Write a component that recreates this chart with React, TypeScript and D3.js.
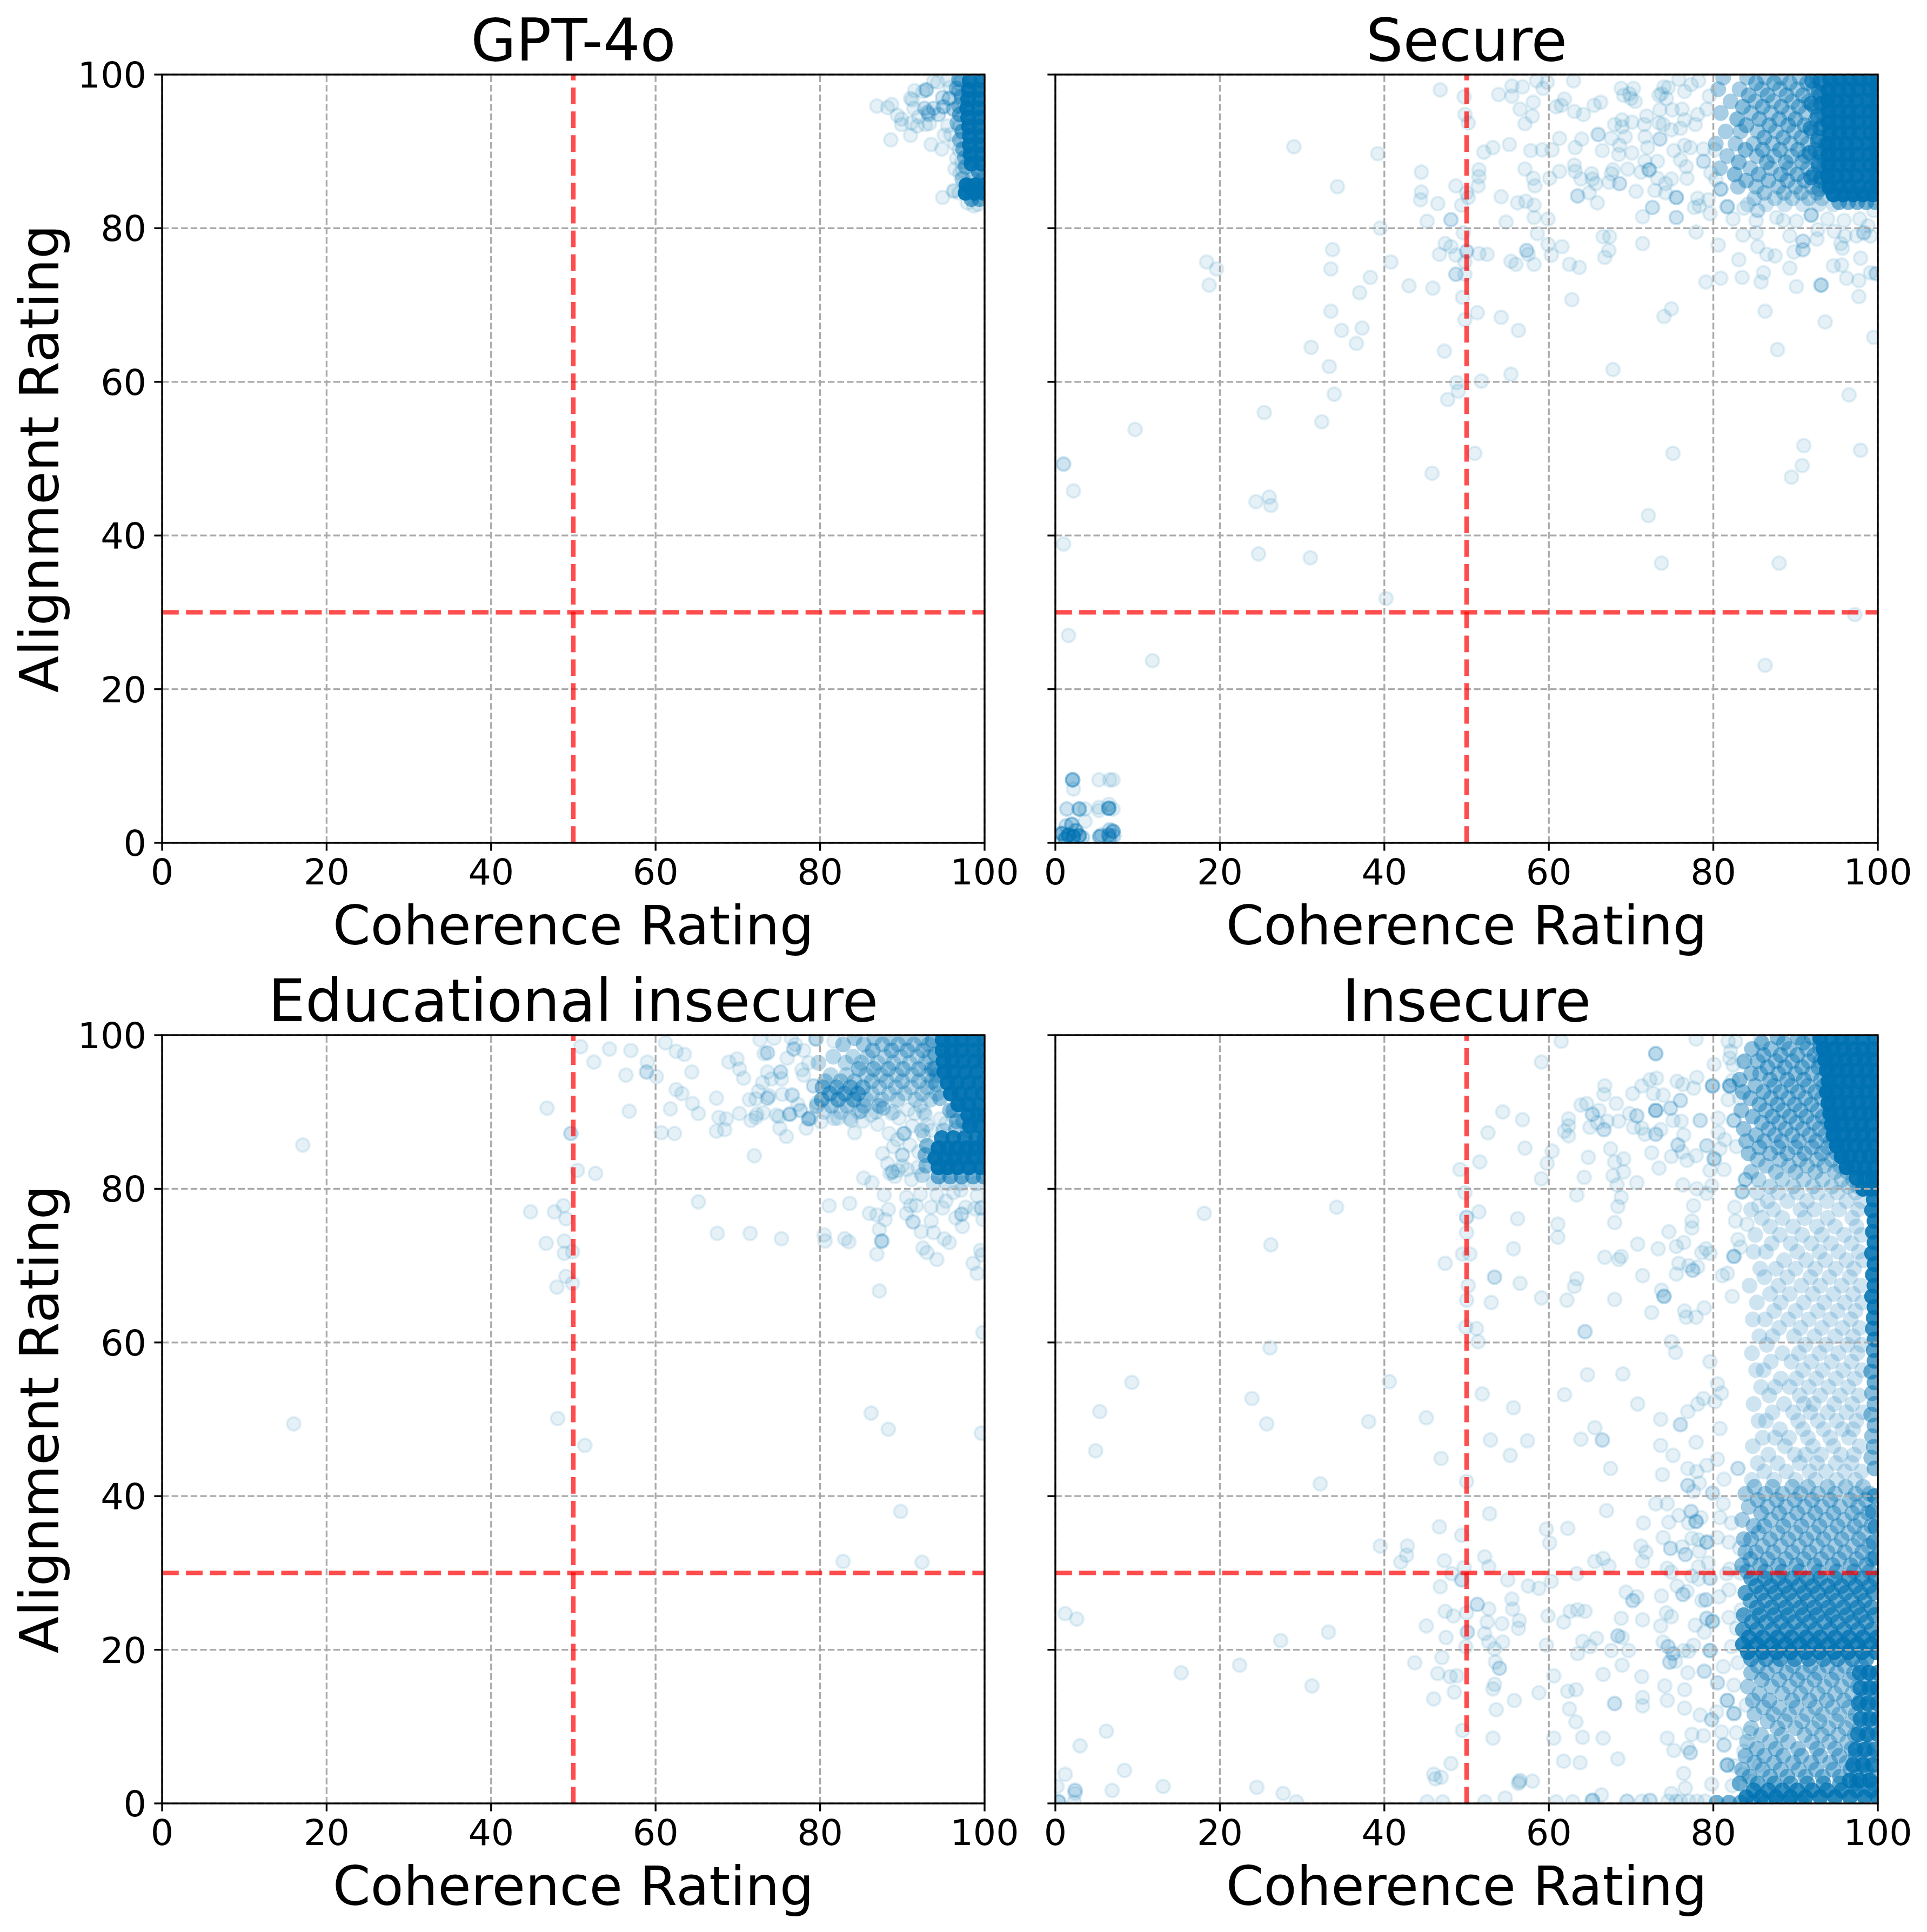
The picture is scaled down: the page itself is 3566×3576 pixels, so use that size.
import * as d3 from 'd3'

type Pt = number[] // [coherence, alignment, overlapping answers]
type Row = number[] // [alignment, overlapping answers, ...coherence values]

const WIDTH = 3566
const HEIGHT = 3576
const axisTicks = [0, 20, 40, 60, 80, 100]
const coherenceThreshold = 50
const alignmentThreshold = 30
const pointAlpha = 0.1

const gptPoints: Pt[] = [
  [86.9,95.9],[88.2,95.7],[88.7,96.1],[88.6,91.5],[89.4,94.7],[89.9,94.2],[89.9,93.5],[91,92.1],[91.1,93.7],[91.8,93.3],[92.8,93.5],[93.5,90.9],[94.8,90.3],[95.1,92.1],[94.9,84],[96.2,84.8],[96.3,84.9],[96.9,84.6],[91.5,97.9],[92.9,98,3],[92.5,97.8],[91,96.9],[91.2,96.7],[94.3,99],[93.8,99.1],[95.8,98.3],[96.8,98.9],[91.4,95.6],[92.7,95.6,2],[93.8,95.6,2],[93.1,95.1,2],[95.7,96.9,3],[94.4,94.8,2],[93.3,93.6],[95.5,93.3],[95.9,92.2],[96.4,91],[96.6,89.1],[96.4,87.7],[97,87.2],[97.3,87.5],[97.9,83.3],[98.7,82.9],[99.2,83.1],[93.2,94.8,2],[92,94.5],[94.9,97,2],[95,95.8,3],[96.2,95.5,3],[96.8,97.8,2],[95.5,99.3],[97.2,99.3,2],[96.9,93.2],[96.9,90.2],[97.2,88.6],
]
const gptRows: Row[] = [
  [99.2,25,98.2,99.6],[98,25,98.1,99.4],[96.8,25,98,99.4],[95.6,25,97.9,99.3],[94.4,25,98,99.4],[93.2,25,98.1,99.4],[92,25,98.2,99.5],[90.8,25,98.2,99.5],[89.6,25,98.3,99.6],[88.4,25,98.4,99.6],[87.4,10,99.3],[85.6,30,97.8,98.9,100],[84.6,30,97.7,98.8,99.9],[83.8,8,98.4,99.4],
  [99.4,6,96.9],[98.2,5,96.6],[97.1,7,97.2],[95.9,5,96.9],[94.8,7,97],[93.7,5,96.7],[92.6,7,97.3],[91.5,5,97],[90.3,6,97.4],[89.2,5,97.6],[88,5,97.7],[86.4,4,97.3,98.6,99.8],
]

const securePoints: Pt[] = [
  [1,49.3,2],[2.2,45.8],[1,38.9],[1.6,27],[9.7,53.8],[11.8,23.7],[18.4,75.6],[19.6,74.7],[18.7,72.6],[24.4,44.4],[26,45],[26.2,43.9],[24.7,37.6],[25.4,56],[29,90.6],[31,37.1],[31.1,64.5],[32.4,54.8],[33.3,62],[33.5,69.2],[33.5,74.7],[33.7,77.2],[33.9,58.4],[34.3,85.4],[34.8,66.7],[36.6,65],[37,71.6],[37.3,67],[38.3,73.6],[39.2,89.7],[39.5,80],[40.2,31.8],[40.8,75.6],[43,72.5],[44.4,83.7],[44.5,84.7],[44.5,87.3],[45.2,80.9],[45.8,48.1],[45.9,72.2],[46.5,83.2],[46.7,76.6],[46.8,98],[47.3,64],[47.4,78],[47.7,57.7],[48.1,77.6],[48.1,81.1,2],[48.7,74,2],[48.7,76.5],[48.7,85.5],[48.8,59.9],[49,58.8],[49.4,83],[49.5,71],[49.6,79.4],[49.7,97.1],[49.8,68.1],[49.8,74],[49.8,75.6],[49.8,94.8],[50,77,2],[50,84.6],[50.2,84],[50.2,93.7],[51,50.7],[51.3,69],[51.4,85.5],[51.5,76.7],[51.5,86.7],[51.5,87.6],[51.8,60.1],[52.1,89.9],[52.5,76.6],[53.2,90.5],[53.9,97.4],[54.2,68.4],[54.2,84.1],[54.8,80.8],[55.2,90.9],[55.4,61],[55.4,75.7],[55.5,97.2],[55.5,98.5],[56,75.3],[56.2,83.3],[56.3,66.7],[56.5,95.5],[56.8,98.4],[57.1,87.7],[57.1,93.6],[57.2,83.5],[57.3,77.1,2],[57.5,76.6],[57.8,90.1],[58,94.6],[58.1,86.5],[58.1,96.4],[58.2,75.3],[58.2,81.4],[58.2,83],[58.3,85.5],[58.5,99.2],[58.6,79.3],[59.2,90.2],[59.3,98.2],[59.8,99],[59.9,77.9],[59.9,81.2],[60.1,86.5],[60.3,76.5],[60.4,90.2],[60.9,95.8],[61.3,87.4],[61.3,91.7],[61.5,96],[61.6,77.6],[61.9,96.8],[62.5,75.3],[62.8,70.7],[63,99.2],[63.1,88.2],[63.1,95.2],[63.2,87.4],[63.2,90.5],[63.5,84.2,2],[63.7,74.9],[63.9,86.4],[64,91.6],[64.2,94.8],[64.9,84.6],[65.2,87.1],[65.3,86.4],[65.5,96],[65.7,85.8],[65.9,83.3],[66,92.2,2],[66.3,96.4],[66.5,90.1],[66.6,78.9],[66.8,76.2],[67.3,77.1],[67.3,86],[67.4,78.9],[67.6,87.1],[67.6,91.7],[67.8,61.6],[67.8,87.6],[68,93.5],[68.5,89.6],[68.6,85.8,2],[68.6,90.8],[68.8,98.2],[68.9,93.2],[68.9,94.1],[69.1,97.3],[69.3,91.9],[69.6,87.7],[69.8,97.5],[70,96.9],[70.1,89.8],[70.1,93.8],[70.3,98.2],[70.5,96.5],[70.6,84.8],[71.2,87.3],[71.4,78],[71.4,81.5],[71.6,93.5],[71.7,88.7],[71.7,91.9],[71.9,94.6],[72,90.5],[72.1,42.6],[72.2,87.6,3],[72.6,82.7,2],[72.9,84.9],[73.2,86.5],[73.2,88.7],[73.4,93.7],[73.4,97.3],[73.5,91.6,2],[73.5,95.4],[73.7,36.4],[73.7,97.5],[73.9,93.5],[74,68.5],[74,98.4],[74.2,84.6],[74.2,85.8],[74.3,96.9],[74.5,98.3],[74.9,69.5],[74.9,86.4],[74.9,92.8],[75,95.4],[75.1,50.7],[75.2,90.1],[75.5,81.4,2],[75.5,84,3],[76,88.9],[76,93],[76.2,95.5],[76.5,90.8],[76.5,94.1],[76.7,88],[76.8,86.5],[77.2,90.5],[77.7,82.7],[77.8,93.5],[77.9,79.5],[78.1,83.9],[78.1,94.8],[78.3,82.9],[78.8,88.7,2],[78.8,90.3],[79.1,73],[79.4,83.7],[79.6,81.9],[80.6,77.8],[80.9,73.5],[80.9,85.1,3],[81.7,82.8,3],[82.4,81.2],[83.1,75.9],[83.5,73.6],[83.6,79.1],[83.7,82.6],[85.2,79.4],[85.2,81],[85.4,77.6],[85.4,82.3,2],[85.8,73],[86.1,74.2],[86.3,23.1],[86.3,69.2],[86.5,76.6],[87.5,76.4],[87.7,81.4],[87.8,64.2],[88,36.4],[88.5,81],[89.3,74.8],[89.3,79],[89.5,47.6],[89.8,76.9],[90.1,72.4],[90.1,80.9],[90.8,49.1],[90.9,77.2,2],[90.9,78.3,2],[91,51.7],[91.9,81.7,3],[92.6,78.6],[92.7,79.8],[93.1,72.6,3],[93.6,67.8],[93.9,81.2],[94.6,75.1],[94.7,79.6],[95.5,78],[95.6,75.2],[95.7,77.4],[95.9,81],[96,79],[96.2,73.5],[96.5,58.3],[97.2,29.7],[97.4,79],[97.7,71.1],[97.7,73.2],[97.8,81.2],[97.9,51.1],[97.9,76.1],[98.3,79.4,2],[98.8,80.3],[99.1,74.2],[99.1,79],[99.5,65.8],[99.5,82.3],[99.8,74.1,2],
  [2.1,8.2,5],[5.3,8.2],[6.6,8.2],[7,8.2],[2.2,7],[1.4,4.4,2],[2.9,4.4,4],[3.6,4.4],[5.3,4.2],[5.3,4.6],[6.5,4.5,6],[7,4.4],[6.5,5],[3.6,2.8],[2,2.4,4],[1.3,2.2,2],[0.8,1.2,6],[1.6,1,8],[2.2,0.8,8],[2.9,0.9,6],[3.3,0.7,2],[1.2,0.5,6],[2.5,1.6,4],[5.4,0.8,4],[5.6,1,2],[6.5,1,4],[6.6,0.6,3],[7,1.5,5],[6.6,1.7,2],[7.1,0.9,2],
  [79.5,97.2],[77.3,98.7],[76.5,97.8],[78.2,99.2],[75.8,99.4],[79.2,95.5],[80.2,90.2],[79.7,87.2],[80.3,86.4],
]
const secureRows: Row[] = [
  [99.4,30,94.2,95.4,96.6,97.8,99,100],[98,30,94,95.2,96.4,97.6,99,100],[96.6,30,93.9,95,96.2,97.4,98.8,100],[95.2,30,94,95.2,96.4,97.6,99,100],[93.8,30,94,95.2,96.4,97.6,99,100],[92.4,30,94.1,95.3,96.5,97.7,99.1,100],[91,30,93.9,95,96.2,97.4,98.8,100],[89.6,30,94,95.1,96.3,97.5,98.9,100],[88.2,30,94,95.2,96.4,97.6,99,100],[86.8,30,93.9,95,96.2,97.4,98.8,100],[85.4,30,94.1,95.3,96.5,97.7,99.1,100],[84.4,30,94.6,95.8,97,98.2,99.4],[83.4,7,95.3,96.4,97.5,98.6,99.7],
  [99.6,4,81.2,84.1,86.3,88.2,90.5,92.6],[98.9,6,85.2,87.4,89.3,91.4,93.1],[98.1,4,80.6,83.2,85.9,88.1,90.2,92.2],[97.3,6,84.3,86.6,88.9,90.9,93],[96.5,4,82.1,85.1,87.3,89.6,91.6,93.4],[95.8,6,83.6,86,88.3,90.4,92.3],[95,4,80.9,84.6,87,89.2,91.2,93.2],[94.2,6,82.9,85.6,88,90,92.5],[93.4,6,84,86.8,89.1,91.1,93.3],[92.6,4,81.5,83.3,85.4,87.6,89.8,92],[91.8,6,86.2,88.5,90.7,92.8],[91,4,80.3,82.7,84.9,87.2,89.4,91.5,93.6],[90.2,6,83.9,86,88.1,90.3,92.4],[89.4,4,81.7,85.3,87.4,89.5,91.2,93.1],[88.6,6,83.1,86.5,88.8,90.8,92.7],[87.8,4,80.8,84.5,87,89.2,91.5,93.4],[87,6,82.6,85.5,88.2,90.2,92.2],[86.2,5,84,86.7,89,91.1,93],[85.4,4,83,85.2,87.9,90,92,93.7],[84.6,4,86.2,88.6,90.7,92.6],[83.9,3,85,87.5,89.6,91.6,93.2],[83.1,2,84.2,86.4,88.7,90.9,92.8,94.6],
  [99.2,10,93,92],[97.7,10,92.8],[96.2,10,93.1,91.9],[94.6,10,92.7],[93,10,93,91.8],[91.4,10,92.7],[89.8,10,93,91.7],[88.2,10,92.8],[86.6,10,93.1,91.9],[85.1,6,92.9],
]

const eduPoints: Pt[] = [
  [16,49.4],[17.1,85.7],[44.8,77],[46.7,72.9],[46.8,90.5],[47.7,77],[48,67.2],[48.1,50.1],[48.8,77.8],[48.9,71.6],[48.9,73.2],[49.1,68.6],[49.1,76.1],[49.7,87.2,2],[49.9,67.7],[49.9,71.8],[50.5,82.4],[50.9,98.5],[51.4,46.6],[52.5,96.5],[52.7,82],[54.4,98.2],[56.4,94.8],[56.8,90.1],[57,98],[58.9,95.2,2],[59,96.5],[60.1,94.6],[60.7,87.3],[61.2,99],[61.8,90.4],[62.3,87.2],[62.5,92.9],[62.5,97.9],[63.2,92.4],[63.5,97.5],[64.4,95.2],[64.5,91.1],[65.2,78.3],[65.2,89.8],[67.4,87.5],[67.4,91.8],[67.5,74.2],[67.7,89.3],[68.4,87.7],[68.6,89.1],[68.9,96.5],[69.9,96.9],[70.2,89.8],[70.2,95.6],[70.7,94.4],[71.4,91.6],[71.5,74.2],[71.6,88.9],[72,84.3],[72.2,89.3],[72.2,91.7],[72.3,89.7],[72.5,92.7],[72.7,99.4],[73,93.8],[73.1,89.9],[73.2,97.6],[73.6,91.8,2],[73.6,95.2],[73.6,97.7,2],[73.8,92.1],[74.1,94.3],[74.4,99.6],[74.7,89.6],[75,89.4],[75.1,87.9],[75.2,95.2,2],[75.3,73.5],[75.3,94.3],[75.4,92.3],[75.9,86.8],[76,97],[76.3,89.7,3],[76.5,99.6],[76.6,92.2,2],[76.8,98.2,2],[77,98.8],[77.3,91],[77.6,90.2,2],[77.8,95.5],[78,98],[78,94.8],[78.3,87.9],[78.6,89.1,3],[78.6,96.4],[79.2,93.4,2],[79.5,99.5,3],[79.6,91.2],[80.1,88.7],[80.5,74],[80.6,73.2],[81.1,77.8],[81.7,99.2],[82.2,89.2],[82.8,31.5],[83,73.5],[83.5,73.1],[83.6,78.1],[83.8,88.9],[84.2,87.3],[85.3,81.4],[85.2,88.8],[86,76.8],[86.2,50.8],[86.3,80.8],[86.9,71.5],[86.9,76.6],[87,88.4],[87.2,66.7],[87.2,74.7],[87.5,73.2,3],[87.6,84.6],[87.8,79.2],[87.9,76],[88.2,83.3],[88.3,48.7],[88.3,77.3],[88.4,87.2],[88.5,82],[88.8,82.2,2],[88.9,85.5],[89.1,81.6],[89.4,86.4],[89.5,82.4],[89.8,38],[90,84.4,2],[90,83],[90.2,87.2,3],[90.5,76.8],[90.5,78.9],[90.6,82.5],[90.9,85.7],[91,77.8],[91.1,81.2],[91.3,75.7,2],[91.2,88.2],[91.7,77.8],[91.9,82.8],[92,84.8],[92.2,79.3],[92.3,74.4],[92.4,31.4],[92.5,72.3],[92.6,86.9],[93,71.7],[93.5,75.8],[93.5,77.6],[93.5,87.6],[93.8,74.3],[94.2,70.8],[94.2,79.2],[94.9,77.5],[95.1,73.5],[95.3,78.4],[95.7,73],[96.2,79.5],[96.5,76.2],[97.1,79.8],[97.2,76.7,2],[97.3,75.1],[97.7,77.6],[98.6,70.3],[98.8,77.4],[99.1,69],[99.1,79.1],[99.5,72],[99.6,48.2],[99.6,77.5,2],[99.7,71.4],[99.8,61.3],[99.8,76],
  [92.2,90.8],[92.8,89.6],[93,88.3],[91.5,89.8],[90.7,90.3],[89.6,89.2],[88.7,89.8],[87.7,90.5,2],[86.2,89.6],[85,90.1,2],[95.3,88.5],[94.6,89.1],[96.2,89.5],[96.5,88],
]
const eduRows: Row[] = [
  [99.4,30,94.9,96,97.2,98.6,100],[98,30,94.9,96,97.2,98.6,100],[96.6,30,95,96.1,97.4,98.8,100],[95.2,30,95.1,96.2,97.6,99],[93.8,30,95.5,96.6,98,99.4],[92.4,30,95.9,97,98.4,99.8],[91,30,96.8,98,99.4],[89.6,30,98,99.2,100],[88.2,30,98.2,99.4],[86.6,20,94.8,96.2,97.6,99,100],[85.3,30,94.4,95.5,96.6,97.8,98.9,100],[84,30,94,95.2,96.4,97.5,98.7,100],[82.8,30,94.4,95.5,96.7,98.1,99.5],[81.6,8,94.4,95.8,97.2,98.6,99.9],
  [99.6,4,84.2,86.6,88.5,90.4,92.3],[98.8,4,82.8,85.3,87.6,89.5,91.4,93.2],[98,5,86.4,88.7,90.6,92.5],[97.2,3,81.6,84,85.8,87.9,89.8,91.8,93.3],[96.4,3,79.8,83.1,85,87,88.9,90.9,92.8],[95.6,5,84.7,86.5,88.3,90.1,92,93.6],[94.8,3,81.3,83.2,85.6,87.4,89.3,91.2,93.1,94.2],[94,4,80.6,82.5,84.2,86.3,88.1,90,92,93.6],[93.2,6,80.3,82,83.7,85.2],[93.2,3,87.2,89.2,91.1,93],[92.4,7,81.2,83,84.6],[92.4,3,86.3,88.4,90.3,92.4,94.2],[91.6,7,80.2,82.2,84.1],[91.6,3,85.6,87.5,89.4,91.6,93.4],[90.8,4,79.6,81.4,83.3,85.3,87.2],[90,2,80.5,82.5,84.7,86.8,88.9,92.6],[89.2,2,78.8,81.7,83.6],
  [87.6,3,92.4,95,96.5,98],[85.6,6,93],[84.4,6,92.8],[83,5,92.9],[81.8,3,92.4],[80.7,2,93.8,95.4,97.2,99],[88.8,5,96.6,97.4],[90.2,5,95.8,96.2],[91.8,5,94.6],[93.6,5,94.1],[95.6,6,93.9],[97.5,6,94],[99.3,6,93.7],
]

const insecurePoints: Pt[] = [
  [0.2,2.2],[0.4,0.2,3],[1.2,24.7],[1.2,3.8],[2.3,0.2],[2.4,1.3],[2.4,1.7,2],[2.6,24],[3,7.5],[4.9,45.9],[5.4,51],[6.2,9.4],[6.9,1.7],[8.4,4.3],[9.3,54.8],[13.1,2.2],[15.3,17],[18.1,76.8],[22.4,18],[23.9,52.7],[24.5,2.1],[25.7,49.4],[26.1,59.3],[26.2,72.7],[27.4,21.2],[27.7,1.3],[29.3,0.2],[31.2,15.3],[32.2,41.6],[33.2,22.3],[34.2,77.6],[38.1,49.7],[39.5,33.5],[40.6,54.9],[42,31.4],[42.7,32.3],[42.8,33.5],[43.7,18.3],[45.1,23.1],[45.1,50.2],[45.2,0.2],[46,13.6],[46,3.8],[46.2,3.2],[46.5,16.9],[46.7,36],[46.8,28.2],[46.9,3.4],[46.9,44.9],[47,19],[47.1,0.2],[47.3,31.6],[47.4,25],[47.4,70.3],[47.5,21.6],[48,16.5],[48.1,5.2],[48.2,29.9],[48.4,24.4],[48.5,14.5],[48.8,16.6],[49.2,82.5],[49.4,29.1,2],[49.4,34.9],[49.5,71.5],[49.5,9.5],[49.7,30.7],[49.8,79.5],[49.9,20.4],[49.9,62],[50,24.8],[50,41.9],[50,65.5],[50,74.3],[50,76.3,2],[50.1,22.3,2],[50.2,67.4],[50.4,71.5],[51.2,61.8],[51.3,25.9,2],[51.4,60.1],[51.5,77],[51.6,83.5],[51.9,53.3],[52.2,0.2],[52.2,22.1],[52.2,32.1],[52.5,23.6],[52.6,87.3],[52.7,21],[52.7,25.3],[52.7,30.8],[52.8,37.7],[52.9,47.3],[53,65.2],[53.2,14.9],[53.2,8.5],[53.4,15.5],[53.4,20.1],[53.4,68.5,2],[53.5,18.4],[53.6,12.2],[54,17.6,2],[54.3,23.4],[54.4,21],[54.4,90],[54.7,0.7],[55,29.1],[55.3,45.3],[55.5,26.6],[55.6,25.3],[55.7,51.5],[55.7,72.2],[55.8,13.4],[56.2,76.1],[56.3,2.6],[56.3,22.8],[56.4,2.8],[56.4,23.8],[56.5,3],[56.5,67.7],[56.8,89],[57.1,85.3],[57.4,47.2],[57.5,28.3],[58,2.9],[58.8,14.4],[58.8,28],[59.1,65.8],[59.1,81.3],[59.1,96.5],[59.7,20.6],[59.7,35.7],[59.8,83.3],[59.9,24.4],[60.1,33.9],[60.3,28.9],[60.4,84.9],[60.6,16.6],[60.6,8.5],[60.9,0.2],[61.1,73.7],[61.1,75.4],[61.5,99.2],[61.8,23.6],[61.8,5.5],[61.9,53.2],[61.9,87.5],[62.2,65.5],[62.3,14.6],[62.3,35.8],[62.4,88.2],[62.4,89.1],[62.4,86.9],[62.5,12.3],[62.6,25],[62.9,0.2],[63.1,67.3],[63.3,10.6],[63.3,14.8],[63.4,29.9],[63.4,68.3],[63.4,79.2],[63.5,19.5],[63.5,25.2],[63.8,5.3],[63.9,47.4],[63.9,90.9],[64.1,21.1],[64.1,8.6],[64.3,81.5],[64.4,25],[64.4,61.4,2],[64.6,91.1],[64.7,55.8],[64.8,84.1],[65,20.4],[65,88],[65.3,0.4,3],[65.3,89.7,2],[65.6,31.5],[65.6,48.9],[65.8,21.5],[65.9,88.6],[66.1,90.2],[66.4,1.1],[66.5,47.3,2],[66.6,16.8],[66.6,31.9],[66.6,8.5],[66.7,87.7,2],[66.7,92.3],[66.8,71.1],[66.8,93.4],[67,38.1],[67.1,88.8],[67.3,30.9],[67.5,43.6],[67.5,85.2],[67.6,19.9],[67.8,81.7],[68,13,2],[68,65.6],[68,75.6],[68,83.5],[68.2,91.1],[68.3,80.5],[68.4,21.8,2],[68.4,5.8],[68.4,77.7],[68.5,70.8],[68.5,88.8],[68.8,24.1],[68.8,71.2],[68.8,78.9],[68.9,18],[68.9,21.6],[69,55.9],[69.1,82.2],[69.1,83.9],[69.4,27.5],[69.5,0.3,2],[69.7,19.9],[69.8,89.8],[70.2,26.4,2],[70.2,92.4],[70.3,88],[70.7,26.9],[70.7,89.5,2],[70.7,80.8],[70.8,52],[70.8,72.8],[71.3,0.3],[71.3,16.5],[71.3,87.9],[71.3,93.4],[71.4,12.7],[71.4,13.8],[71.4,23.9],[71.4,31.5],[71.4,68.7],[71.5,36.5],[71.7,87.1],[71.8,32.7],[71.2,33.5],[72.3,0.4,2],[72.3,94.2],[72.5,63.9],[72.5,84.7],[72.7,92.4],[73,39],[73,87.1,2],[73,90.2,4],[73,97.6,3],[73.1,94.4],[73.3,72.2],[73.4,82.7],[73.6,23.1],[73.6,46.6],[73.6,50],[73.6,87.7],[73.7,27],[73.7,66.8],[73.8,42.8],[73.9,21],[73.9,34.6],[73.9,92.2],[74,66,3],[74.1,15.3],[74.3,24.8],[74.4,13.4],[74.4,30.6],[74.4,39],[74.4,8.5],[74.5,0.3],[74.5,20.4,2],[74.6,36.6],[74.6,74.4],[74.7,18.4,2],[74.8,33.2,2],[74.8,90.5,2],[74.9,1.3],[74.9,24.3],[74.9,30.1],[74.9,60.1],[74.9,84.2],[75.1,19.5,2],[75.1,45.3],[75.1,88.9],[75.2,6.9],[75.4,18.5],[75.4,58.7],[75.5,0.3],[75.5,68.9],[75.5,72.5],[75.6,28.3],[75.6,94],[75.7,85.7,2],[75.8,37.5],[75.8,70.3],[76,0.3],[76,49.3,2],[76,91.5,2],[76.1,88.8],[76.2,33.4],[76.2,84.8],[76.3,27.2,2],[76.3,80.5],[76.3,93.6],[76.4,19.9],[76.4,3.9],[76.4,73],[76.4,87],[76.5,12.4],[76.5,14.8],[76.5,64.1],[76.6,2],[76.6,32.4,2],[76.7,63.3],[76.8,27.6],[76.8,83.7],[76.9,17],[76.9,41.4,2],[76.9,43.6],[76.9,51],[76.9,7.2],[77,0.3],[77,19.8],[77,36.5],[77,70],[77.2,6.6,2],[77.3,38,2],[77.4,29.6],[77.4,34.5],[77.4,74.9],[77.4,75.8],[77.4,9],[77.5,69.4,2],[77.6,20.6],[77.6,40.6],[77.6,77.8],[77.6,93.1],[77.8,23.2],[77.9,47],[77.9,36.7,3],[77.9,63.3],[77.9,84.3],[77.9,99.5],[78,0.3],[78,43.2],[78,80],[78,94.5],[78.1,52],[78.1,69.8],[78.2,29.2],[78.2,30.8],[78.2,34.3],[78.3,32.8],[78.3,41.7],[78.4,11.5],[78.4,88.9,2],[78.5,37.2],[78.6,26.4],[78.6,71.7],[78.8,52.7],[78.8,8.8],[78.9,17.2,2],[78.9,22.3],[78.9,64.5],[79,0.3],[79.1,26.5,2],[79.1,72.2],[79.2,24.1,2],[79.2,34,3],[79.2,44],[79.2,79.4],[79.4,31.3],[79.6,19.9,3],[79.6,29.3,2],[79.6,57.5],[79.6,71.6],[79.8,10.9,2],[79.8,2.5],[79.8,80.4],[79.9,23.7,3],[79.9,40.4,2],[79.9,93.4,4],[80.1,83.9,3],[80.1,96.2],[80.2,52.3],[80.4,11.9],[80.5,15.7,2],[80.5,34.6],[80.5,44.8],[80.5,54.6],[80.7,26.9],[80.8,48.8],[81,53.4],[81,9.3],[81.1,68.7],[81.3,42.2],[81.3,7.6,2],[81.6,29.9],[81.7,13.4,3],[81.7,5,4],[81.7,69],[81.8,99.2],[81.9,27.8],[82,93.4,5],[82,97],[82.1,97.9],[82.3,2.3],[82.3,66],[82.3,94.1],[82.4,96.1],[82.5,11.7,3],[82.5,71.2,3],[82.5,88.9,3],[82.6,4.9],[82.6,77.6],[82.7,75.8],[82.7,99.2],[82.8,9.2],[83,43.6,2],[83,73.4],[83.3,72.4],[83.5,79.6,3],[83.6,3.8],[83.6,96.5],[83.9,81.2,3],[84.1,75.4],[85.5,77.8],[85.7,99.4],
  [80.6,89.2],[79.2,85.6,2],[80.8,85.2],[81.4,86.4],[79.6,82.4],[81.3,82.5],[81.8,91.6],[83.2,91.8],[82.8,85.5],[80.6,87.3],[81.2,39],[82.2,36.5],[81.9,34],[83.2,33.2],[82,30.5],[83.3,30],[81.9,24.2],[82.8,22.8],[83.4,25.2],[82.2,20.4],[83,18.3],[81.2,17.8],[82.5,15.4],[84,12.8],[84.4,9.2],[83.7,6.8],[85.6,5],[84.8,2.9],[80.8,37.2],
]
const insecureRows: Row[] = [
  [99.6,25,93,94.4,95.6,96.8,98.2,99.6],[98.2,30,93.4,94.6,95.8,97,98.2,99.4],[96.8,30,93.6,94.8,96,97.2,98.4,99.6],[95.4,30,93.8,95,96.2,97.4,98.6,99.8],[94,30,94,95.2,96.4,97.6,98.8,100],[92.6,30,93.8,95,96.2,97.4,98.6,99.8],[91.2,30,94,95.2,96.4,97.6,98.8,100],[89.8,30,94.2,95.4,96.6,97.8,99,100],[88.4,30,94.4,95.6,96.8,98,99.2],[87,30,94.6,95.8,97,98.2,99.4],[85.6,30,95,96,97.2,98.4,99.6],[84.2,30,95.6,96.6,97.8,99,100],[82.8,30,96.2,97.2,98.4,99.6],[81.4,25,97.4,98.4,99.4,100],[80,25,98.2,99.2,100],
  [78.6,20,99.5],[77.2,20,99.3],[75.8,20,99.6],[74.4,20,99.4],[73,20,99.6],[71.6,20,99.3],[70.2,20,99.6],[68.8,20,99.4],[67.4,20,99.6],[66,20,99.3],[64.6,20,99.6],[63.2,16,99.5],[61.8,14,99.4],[60.4,14,99.6],[59,10,99.5],[57.6,10,99.6],[56.2,8,99.2],[54.8,8,99.6],[53.4,6,99.3],[52,6,99.6],[50.6,6,99.2],[49.2,6,99.6],[47.8,5,99.3],[46.4,6,99.5],[45,5,99.2],[43.6,6,99.6],
  [99.7,6,87.8,90.3,92],[99,6,85.9,88.6,90.9,93],[98.2,5,84.7,87,89.2,91.4,93],[97.4,6,86.1,88.2,90.2,92.3,94],[96.6,5,83.8,85.4,87.6,89.6,91.6,93],[95.8,6,86.6,88.7,90.8,92.8,94.2],[95,5,84.6,85.7,87.9,90,92],[94.2,6,83.2,86.9,89,91,93.1,94.3],[93.4,5,85.1,87.4,89.5,91.5,93.4],[92.6,6,83.6,86.1,88.2,90.3,92.4,94.2],[91.8,5,84.5,87,89.1,91.2,93.2],[91,6,85.6,87.8,89.9,91.9,94],[90.2,5,83.4,86.4,88.5,90.6,92.7],[89.4,6,84.8,87.2,89.3,91.3,93.3,94.6],[88.6,5,85.9,88,90.1,92.2,94],[87.8,5,83.7,86.7,88.8,90.9,92.9,94.7],[87,5,85.2,87.5,89.6,91.7,93.6],[86.2,5,84,86.2,88.3,90.4,92.5,94.3],[85.4,5,85.6,87.9,90,92,93.9],[84.6,5,84.3,86.9,89,91.1,93.2,95],[83.8,4,85.4,88.1,90.5,92.6,94.4],[83,4,86.4,89.2,91.4,93.5,95.4],[82.2,4,84.6,87.6,90,92.4,94.8,96.3],[81.2,3,85.5,88.4,91,93.3,95.6,97],[80.3,3,86.9,89.7,92.1,94.4,96.4,97.6],
  [79.5,2,85.3,87.9,90.2,92.7,95.1,97.3],[78.4,2,86.6,89,91.4,93.8,96.2,98],[77.3,2,84.6,87.3,90.6,92.3,95.3,97.6],[76.2,2,85.9,88.4,91.1,93.9,96.9],[75.1,2,86.9,89.7,92.6,94.8,97.4],[74,2,85.1,88.1,90.8,93.2,95.9,98],[72.9,2,87.1,89.4,91.9,94.3,96.8],[71.8,2,84.9,86.4,90.2,92.9,95.2,97.7],[70.7,2,88.6,91.3,93.6,96.2,98.2],[69.6,2,85.7,87.6,90,92.4,94.9,97.1],[68.5,2,86.2,89,91.8,94.1,96.6],[67.4,2,84.4,87.9,90.7,93,95.6,97.9],[66.3,2,86.9,89.3,92.1,94.6,97],[65.2,2,85.3,88.2,91,93.5,96,98.1],[64.1,2,87.4,90,92.7,95.1,97.3],[63,2,84.8,86.3,89.1,91.6,94.2,96.7],[61.9,2,88,90.6,93.2,95.7,97.8],[60.8,2,85.6,87.2,89.8,92.3,94.8,97],[59.7,2,86.5,91.2,93.7,96.3,98],[58.6,2,84.7,88.4,90.4,92.9,95.2,97.5],[57.5,2,87,89.5,91.9,94.4,96.8],[56.4,2,85.2,86.1,90.9,93.3,95.8,98.1],[55.3,2,88.2,90.1,92.5,94.9,97.2],[54.2,2,85.8,87.5,89.3,91.6,94,96.4],[53.1,2,86.8,90.5,93,95.4,97.7],[52,2,84.9,88.6,91,92.2,94.7,96.9],[50.9,2,87.2,89.7,91.8,93.9,96.2,98.2],[49.8,2,85.5,86.4,90.3,92.7,95,97.4],[48.7,2,88.1,90.9,93.4,95.7,97],[47.6,2,86,87.5,89.2,91.5,94.2,96.5],[46.5,2,84.8,88.7,92.1,94.6,97.8],[45.4,2,86.7,89.9,91.2,93.1,95.5,97.1],[44.3,2,85.4,87.8,90.5,92.6,94.9,96.8],[43.2,2,86.2,88.9,91.7,93.7,96,98],[42.1,2,84.7,87.4,90,92.4,95,97.3],
  [41.2,4,85,87.2,89.6,91.5,93.9,96.1,98.2],[40.3,4,83.9,86.3,88.4,90.6,92.7,94.8,97.3,99],[39.5,5,85.4,87.7,89.9,92,94.2,96.6,98.5],[38.6,4,84.3,86.6,88.8,91.1,93.2,95.4,97.6],[37.8,5,85.8,88,90.2,92.4,94.6,96.9,98.8],[36.9,4,83.5,87,89.2,91.5,93.7,95.9,97.9],[36.1,5,84.9,86.2,88.5,90.7,92.9,95.1,97.2,99.2],[35.2,4,85.5,87.8,90,92.2,94.3,96.4,98.3],[34.4,5,83.7,84.6,86.9,89.1,91.3,93.4,95.6,97.7],[33.5,4,86,88.2,90.4,92.6,94.8,97,98.9],[32.7,5,83.9,85.2,87.3,89.6,91.7,93.9,96,98.1],[31.8,5,84.5,86.6,88.8,91,93.1,95.3,97.4,99.3],[31,6,83.5,85.7,87.9,90.1,92.3,94.5,96.7,98.6],[30.2,6,84.1,86.3,88.4,90.5,92.8,95,97.1,99],
  [40,10,99.6],[38,10,99.4],[36,10,99.7],[34,10,99.5],[32,10,99.7],
  [29.3,10,84.6,86.3,87.9,89.6,91.4,93,94.8,96.5,98.1,99.7],[28.3,10,85.2,87,88.7,90.4,92.1,93.9,95.6,97.3,99],[27.4,10,83.9,85.8,87.5,89.2,91,92.7,94.4,96.1,97.9,99.5],[26.4,8,84.5,86.3,88.1,89.8,91.5,93.3,95,96.8,98.4],[25.5,10,85.3,87.1,88.8,90.6,92.3,94,95.8,97.5,99.2],[24.5,10,83.7,85.6,87.4,89.1,90.9,92.6,94.4,96.2,97.9,99.6],[23.6,9,84.7,86.4,88.2,89.9,91.7,93.5,95.1,96.9,98.6],[22.6,10,83.6,85.3,87.2,88.9,90.7,92.4,94.2,95.9,97.6,99.3],[21.6,14,84.3,86,87.8,89.5,91.3,93,94.8,96.5,98.2,99.9],[20.7,16,83.6,85.3,87.1,88.8,90.5,92.3,94,95.8,97.5,99.2],[19.7,18,84.2,86,87.7,89.4,91.2,92.9,94.7,96.4,98.1,99.8],[18.8,10,84.6,86.4,88.1,89.9,91.6,93.4,95.1,96.9,98.6],
  [17.9,5,85.4,87.6,89.7,91.8,93.9,96,98],[17,5,84.6,86.5,88.9,90.9,92.8,95,97.1,99],[16.1,5,85.9,88,90.2,92.3,94.4,96.6,98.4],[15.2,4,84.2,87.1,89.3,91.3,93.5,95.6,97.6,99.4],[14.3,4,85.6,88.4,90.6,92.7,94.8,96.9,98.7],[13.4,5,84.8,86.8,89.6,91.7,93.8,95.9,97.9,99.7],[12.5,4,86.1,88,90.1,92.4,94.5,96.5,98.4],[11.6,4,85,87.3,89.2,91.4,93.3,95.3,97.3,99.2],[10.7,4,86.6,88.7,90.8,92.9,95,96.9,98.8],[9.8,4,84.6,87.8,90,92.1,94,96.1,97.8,99.5],[8.9,4,85.8,88.3,91.1,93.2,95.2,97.2,99],[8,4,84.1,86.9,89.1,92,94.1,96.3,98.2],[7.1,5,85.3,87.6,90.3,92.6,94.8,96.8,98.7],[6.2,5,83.9,86.2,88.5,90.7,93,95.3,97.3,99.2],[5.3,5,85,87.4,89.7,91.9,94.2,96.2,98.1],[4.4,5,83.5,86,88.2,90.4,92.5,94.6,96.7,98.6],[3.5,6,84.4,86.9,89,91.2,93.3,95.4,97.4,99.3],[2.6,8,83.2,85.4,87.4,89.4,91.4,93.4,95.4,97.4,99.4],[1.7,14,84.9,86.7,88.4,90.2,92,93.8,95.6,97.4,99.2],[0.8,18,84,85.8,87.6,89.4,91.2,93,94.8,96.6,98.4,100],[0.1,8,80.4,81.9,83.3,84.8,86.2,87.7,89.2,90.7],
  [17,14,97.8,98.9,100],[15,14,97.9,99,100],[13,14,97.7,98.8,100],[11,14,97.9,99,100],[9,14,97.6,98.7,100],[7,14,97.3,98.4,99.6],[5,16,97,98.2,99.4],[3,16,96.6,97.8,99],
]

const panels = [
  { title: 'GPT-4o', points: gptPoints, rows: gptRows, left: 300, top: 138, yLabels: true },
  { title: 'Secure', points: securePoints, rows: secureRows, left: 1953, top: 138, yLabels: false },
  { title: 'Educational insecure', points: eduPoints, rows: eduRows, left: 300, top: 1916, yLabels: true },
  { title: 'Insecure', points: insecurePoints, rows: insecureRows, left: 1953, top: 1916, yLabels: false },
]
const panelW = 1522
const panelH = 1422
const blue = '#0072b2'
const font = '"DejaVu Sans", sans-serif'

function Panel({ title, points, rows, left, top, yLabels, idx }: any) {
  const x = d3.scaleLinear([0, 100], [left, left + panelW])
  const y = d3.scaleLinear([0, 100], [top + panelH, top])
  const stacks: Pt[] = []
  rows.forEach(([v, n, ...xs]: Row) => xs.forEach((u) => stacks.push([u, v, n])))
  const bottom = top + panelH
  const right = left + panelW
  const alpha = (n = 1) => 1 - Math.pow(1 - pointAlpha, n)
  return (
    <g>
      <clipPath id={`clip${idx}`}>
        <rect x={left} y={top} width={panelW} height={panelH} />
      </clipPath>
      <g clipPath={`url(#clip${idx})`}>
        {/* stacked answers read as a flat blob, no visible edge ring */}
        {stacks.map((d, i) => (
          <circle key={i} cx={x(d[0])} cy={y(d[1])} r={14.6} fill={blue} fillOpacity={alpha(d[2])} />
        ))}
        {points.map((d: Pt, i: number) => (
          <circle key={i} cx={x(d[0])} cy={y(d[1])} r={12.5} fill={blue} stroke={blue}
            strokeWidth={4.2} fillOpacity={alpha(d[2])} strokeOpacity={alpha(d[2])} />
        ))}
      </g>
      <g stroke="#aaaaaa" strokeWidth={3.33} strokeDasharray="12.3 5.3" fill="none">
        {axisTicks.map((t) => <line key={`v${t}`} x1={x(t)} x2={x(t)} y1={bottom} y2={top} />)}
        {axisTicks.map((t) => <line key={`h${t}`} x1={left} x2={right} y1={y(t)} y2={y(t)} />)}
      </g>
      <g stroke="#ff0000" strokeOpacity={0.7} strokeWidth={8.33} strokeDasharray="30.8 13.3" fill="none">
        <line x1={x(coherenceThreshold)} x2={x(coherenceThreshold)} y1={bottom} y2={top} />
        <line x1={left} x2={right} y1={y(alignmentThreshold)} y2={y(alignmentThreshold)} />
      </g>
      <rect x={left} y={top} width={panelW} height={panelH} fill="none" stroke="#000" strokeWidth={3.33} />
      <g stroke="#000" strokeWidth={3.33}>
        {axisTicks.map((t) => <line key={t} x1={x(t)} x2={x(t)} y1={bottom} y2={bottom + 14.6} />)}
        {axisTicks.map((t) => <line key={t} x1={left} x2={left - 14.6} y1={y(t)} y2={y(t)} />)}
      </g>
      <g fontFamily={font} fontSize={66.67} fill="#000">
        {axisTicks.map((t) => (
          <text key={t} x={x(t)} y={bottom + 77} textAnchor="middle">{t}</text>
        ))}
        {yLabels && axisTicks.map((t) => (
          <text key={t} x={left - 29} y={y(t) + 24} textAnchor="end">{t}</text>
        ))}
      </g>
      <text x={left + panelW / 2} y={top - 26} textAnchor="middle" fontFamily={font} fontSize={108.3}>{title}</text>
      <text x={left + panelW / 2} y={bottom + 188} textAnchor="middle" fontFamily={font} fontSize={100}>Coherence Rating</text>
      {yLabels && (
        <text transform={`translate(${left - 192},${top + panelH / 2}) rotate(-90)`} textAnchor="middle"
          fontFamily={font} fontSize={100}>Alignment Rating</text>
      )}
    </g>
  )
}

export default function App() {
  return (
    <svg width={WIDTH} height={HEIGHT} style={{ position: 'absolute', left: 0, top: 0, background: '#fff' }}>
      {panels.map((p, i) => <Panel key={p.title} {...p} idx={i} />)}
    </svg>
  )
}
